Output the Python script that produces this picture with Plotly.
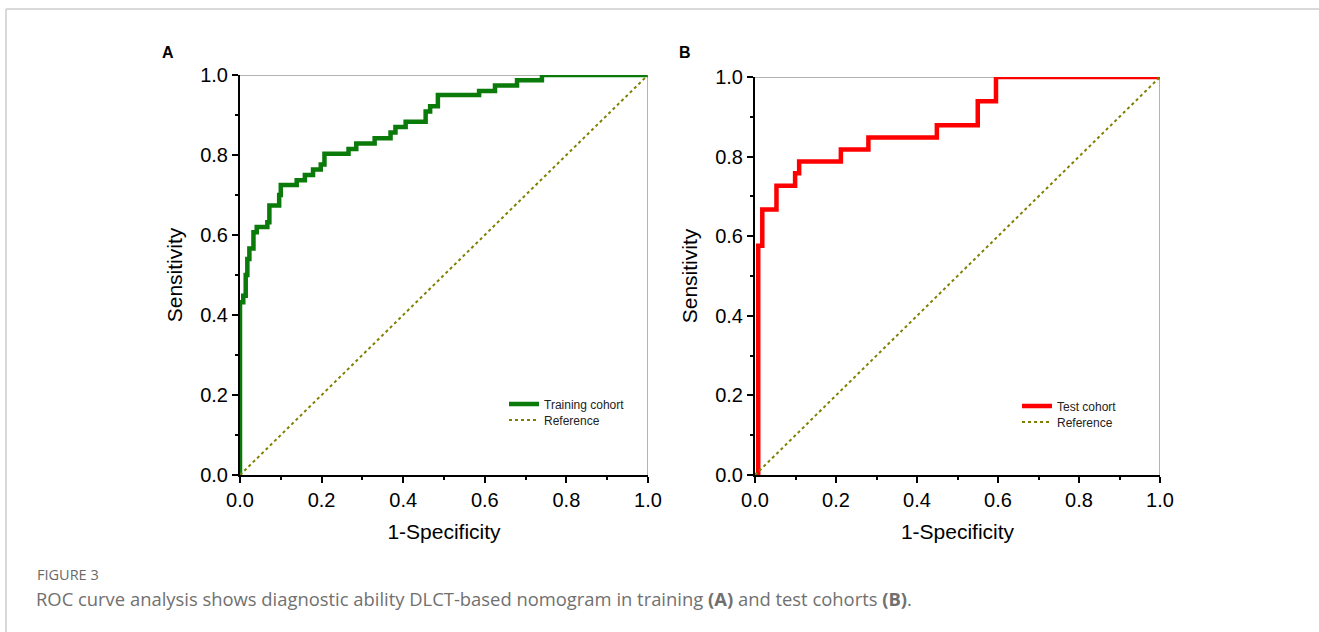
import plotly.graph_objects as go

W, H = 1319, 632

# Panel A: training cohort ROC (step vertices)
fpr_train = [0, 0, 0.008, 0.014, 0.018, 0.023, 0.033, 0.041, 0.067, 0.072, 0.096, 0.100,
             0.139, 0.159, 0.179, 0.198, 0.207, 0.266, 0.285, 0.330, 0.369, 0.381, 0.406,
             0.455, 0.466, 0.485, 0.586, 0.625, 0.679, 0.740, 1.0]
tpr_train = [0, 0.432, 0.448, 0.500, 0.540, 0.566, 0.607, 0.620, 0.632, 0.674, 0.700, 0.725,
             0.737, 0.750, 0.764, 0.776, 0.803, 0.815, 0.829, 0.842, 0.856, 0.870, 0.883,
             0.909, 0.922, 0.950, 0.960, 0.974, 0.987, 1.0, 1.0]

# Panel B: test cohort ROC (step vertices)
fpr_test = [0, 0.008, 0.018, 0.053, 0.099, 0.109, 0.212, 0.280, 0.449, 0.550, 0.595, 1.0]
tpr_test = [0, 0.576, 0.667, 0.727, 0.758, 0.788, 0.818, 0.848, 0.879, 0.939, 1.0, 1.0]

ref_x = [0, 1]
ref_y = [0, 1]

tick_vals = [0.0, 0.2, 0.4, 0.6, 0.8, 1.0]
tick_text = ["0.0", "0.2", "0.4", "0.6", "0.8", "1.0"]

def px(x):
    return x / W

def py(y):
    return 1 - y / H

ARIAL = "Liberation Sans, Arial, sans-serif"

fig = go.Figure()
fig.add_trace(go.Scatter(x=fpr_train, y=tpr_train, mode="lines", line_shape="hv",
                         line=dict(color="#0a7a0a", width=4.5), name="Training cohort",
                         xaxis="x", yaxis="y", legend="legend"))
fig.add_trace(go.Scatter(x=ref_x, y=ref_y, mode="lines",
                         line=dict(color="#808000", width=2, dash="dot"), name="Reference",
                         xaxis="x", yaxis="y", legend="legend3"))
fig.add_trace(go.Scatter(x=fpr_test, y=tpr_test, mode="lines", line_shape="hv",
                         line=dict(color="#ff0000", width=4.5), name="Test cohort",
                         xaxis="x2", yaxis="y2", legend="legend2"))
fig.add_trace(go.Scatter(x=ref_x, y=ref_y, mode="lines",
                         line=dict(color="#808000", width=2, dash="dot"), name="Reference",
                         xaxis="x2", yaxis="y2", legend="legend4"))

axis_font = dict(family=ARIAL, size=20, color="#000")
title_font = dict(family=ARIAL, size=21, color="#000")
common = dict(range=[0, 1], tickvals=tick_vals, ticktext=tick_text, ticks="outside",
              ticklen=6, tickwidth=2, tickcolor="#000", showline=True, linecolor="#000",
              linewidth=2, showgrid=False, zeroline=False, tickfont=axis_font,
              minor=dict(dtick=0.1, tick0=0, ticks="outside", ticklen=3, tickwidth=2,
                         tickcolor="#000", showgrid=False),
              fixedrange=True, automargin=False)

leg_common = dict(xanchor="left", yanchor="middle", bgcolor="rgba(0,0,0,0)",
                  font=dict(family=ARIAL, size=12, color="#222"), itemwidth=30,
                  borderwidth=0)

yA0, yA1 = py(475), py(75)
fig.update_layout(
    width=W, height=H, margin=dict(l=0, r=0, t=0, b=0, pad=0, autoexpand=False),
    paper_bgcolor="white", plot_bgcolor="white",
    xaxis=dict(domain=[px(240), px(648)], anchor="y",
               title=dict(text="1-Specificity", font=title_font, standoff=14), **common),
    yaxis=dict(domain=[yA0, yA1], anchor="x",
               title=dict(text="Sensitivity", font=title_font, standoff=12), **common),
    xaxis2=dict(domain=[px(755), px(1160)], anchor="y2",
                title=dict(text="1-Specificity", font=title_font, standoff=14), **common),
    yaxis2=dict(domain=[yA0, py(77)], anchor="x2",
                title=dict(text="Sensitivity", font=title_font, standoff=12), **common),
    legend=dict(x=px(504), y=py(404), **leg_common),
    legend3=dict(x=px(504), y=py(420), **leg_common),
    legend2=dict(x=px(1017), y=py(406), **leg_common),
    legend4=dict(x=px(1017), y=py(422), **leg_common),
    showlegend=True,
)

shapes = []
# gray top and right frame for each panel
for xr, yr in (("x", "y"), ("x2", "y2")):
    shapes.append(dict(type="line", xref=xr, yref=yr, x0=0, x1=1, y0=1, y1=1,
                       line=dict(color="#9a9a9a", width=1.5), layer="below"))
    shapes.append(dict(type="line", xref=xr, yref=yr, x0=1, x1=1, y0=0, y1=1,
                       line=dict(color="#9a9a9a", width=1.5), layer="below"))
# outer figure border (top and left)
shapes.append(dict(type="line", xref="paper", yref="paper", x0=px(6), x1=1, y0=py(9), y1=py(9),
                   line=dict(color="#cccccc", width=1.5)))
shapes.append(dict(type="line", xref="paper", yref="paper", x0=px(6), x1=px(6), y0=0, y1=py(9),
                   line=dict(color="#cccccc", width=1.5)))
fig.update_layout(shapes=shapes)

annotations = [
    dict(text="<b>A</b>", x=px(168), y=py(52.5), xref="paper", yref="paper", showarrow=False,
         xanchor="center", yanchor="middle", font=dict(family=ARIAL, size=16, color="#000")),
    dict(text="<b>B</b>", x=px(685), y=py(52.5), xref="paper", yref="paper", showarrow=False,
         xanchor="center", yanchor="middle", font=dict(family=ARIAL, size=16, color="#000")),
    dict(text="FIGURE 3", x=px(35), y=py(574), xref="paper", yref="paper", showarrow=False,
         xanchor="left", yanchor="middle", font=dict(family="Open Sans", size=14.5, color="#6a6a6a")),
    dict(text="ROC curve analysis shows diagnostic ability DLCT-based nomogram in training <b>(A)</b> and test cohorts <b>(B)</b>.",
         x=px(34), y=py(598), xref="paper", yref="paper", showarrow=False,
         xanchor="left", yanchor="middle",
         font=dict(family="Open Sans", size=18.4, color="#707070")),
]
fig.update_layout(annotations=annotations)

fig.write_html("out.html", config={"displayModeBar": False, "staticPlot": False},
               post_script="document.body.style.margin='0';document.body.style.overflow='hidden';")
